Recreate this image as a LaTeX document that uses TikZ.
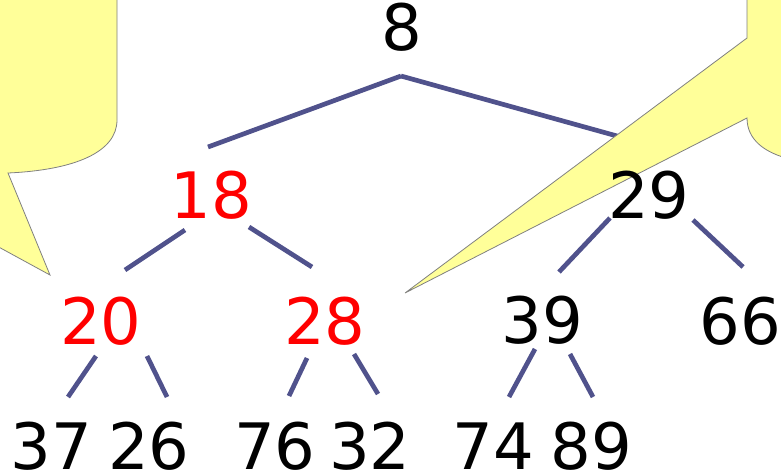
\documentclass[tikz,border=0pt]{standalone}
\usepackage{fontspec}
\setmainfont{DejaVu Sans}
\usepackage{tikz}
\usetikzlibrary{calc,backgrounds}
\usepackage{xcolor}
\definecolor{edgeblue}{RGB}{80,82,140}
\definecolor{notepale}{RGB}{255,255,153}

\begin{document}
\begin{tikzpicture}[x=1pt,y=-1pt,font=\fontsize{64}{70}\selectfont,
  key/.style={inner sep=0pt,anchor=base},
  hot/.style={key,text=red},
  edge/.style={draw=edgeblue,line width=4.7pt},
  note/.style={fill=notepale,draw=gray,line width=0.8pt,line join=miter}]
\useasboundingbox (0,0) rectangle (781,474);
\clip (0,0) rectangle (781,474);
\node[key] (n8) at (401.5,50) {8};
\node[hot] (n18) at (211.5,218) {18};
\node[key] (n29) at (649,218) {29};
\node[hot] (n20) at (101,344) {20};
\node[hot] (n28) at (325,344) {28};
\node[key] (n39) at (542.5,343) {39};
\node[key] (n66) at (740.5,344) {66};
\node[key] (n37) at (51.5,469) {37};
\node[key] (n26) at (149,469) {26};
\node[key] (n76) at (275,469) {76};
\node[key] (n32) at (370,469) {32};
\node[key] (n74) at (493.5,469) {74};
\node[key] (n89) at (591.5,469) {89};
\begin{pgfonlayer}{background}
\draw[edge] ($(n8.base)+(-0.5,26)$) -- ($(n18.base)+(-3.5,-71)$);
\draw[edge] ($(n8.base)+(-0.5,26)$) -- ($(n29.base)+(-14,-77)$);
\draw[edge] ($(n18.base)+(-26.5,12)$) -- ($(n20.base)+(24,-74)$);
\draw[edge] ($(n18.base)+(37.5,9)$) -- ($(n28.base)+(-13,-77)$);
\draw[edge] ($(n29.base)+(-39,0)$) -- ($(n39.base)+(16.5,-71)$);
\draw[edge] ($(n29.base)+(44,2)$) -- ($(n66.base)+(2.5,-77)$);
\draw[edge] ($(n20.base)+(-5,12)$) -- ($(n37.base)+(16.5,-72)$);
\draw[edge] ($(n20.base)+(46,12)$) -- ($(n26.base)+(18,-72)$);
\draw[edge] ($(n28.base)+(-18,14)$) -- ($(n76.base)+(14,-73)$);
\draw[edge] ($(n28.base)+(29,10)$) -- ($(n32.base)+(8,-75)$);
\draw[edge] ($(n39.base)+(-7.5,6)$) -- ($(n74.base)+(15.5,-72)$);
\draw[edge] ($(n39.base)+(27.5,11)$) -- ($(n89.base)+(1.5,-72)$);
\draw[note] (-5,-5) -- (117,-5) -- (117,120) .. controls (117,152) and (75,170) .. (8,173)
  -- (50,275) -- (-5,245) -- cycle;
\draw[note] (786,-5) -- (747,-5) -- (747,38) -- (405,293) -- (747,118)
  .. controls (747,140) and (765,152) .. (786,158) -- cycle;
\end{pgfonlayer}
\end{tikzpicture}
\end{document}
